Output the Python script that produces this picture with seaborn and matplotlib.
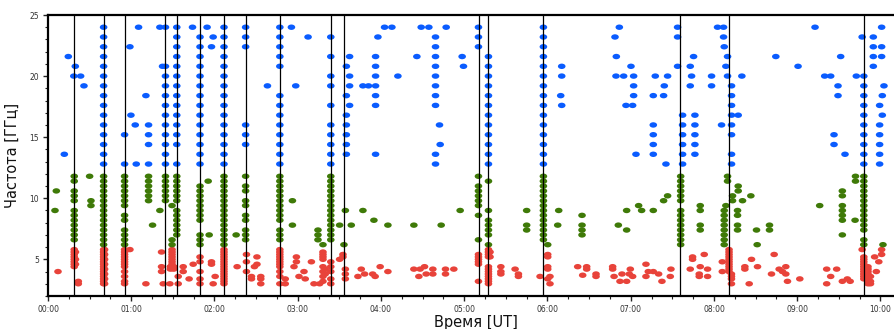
import numpy as np
import pandas as pd
import matplotlib
matplotlib.use("Agg")
import matplotlib.pyplot as plt
from matplotlib.path import Path
from matplotlib.transforms import Affine2D
from matplotlib.ticker import MultipleLocator
import seaborn as sns

# ---------------- data ----------------
blue_channels = [12.8, 13.6, 14.4, 15.2, 16.0, 16.8, 17.6, 18.4, 19.2, 20.0, 20.8, 21.6, 22.4, 23.2, 24.0]
green_channels = [6.2, 6.6, 7.0, 7.4, 7.8, 8.2, 8.6, 9.0, 9.4, 9.8, 10.2, 10.6, 11.0, 11.4, 11.8]
red_channels = [3.0, 3.2, 3.4, 3.6, 3.8, 4.0, 4.2, 4.4, 4.6, 4.8, 5.0, 5.2, 5.4, 5.6, 5.8]

# event times (hours UT) marked by vertical lines
event_times = [0.315, 0.668, 0.920, 1.411, 1.547, 1.826, 2.114, 2.374, 2.785,
               3.397, 3.561, 5.172, 5.291, 5.944, 7.586, 8.181, 9.800]

# (time [h], frequencies [GHz]) groups per band
blue_groups = [
    (0.196, [13.6]), (0.244, [21.6]), (0.328, [20.8]), (0.310, [20.0]), (0.392, [20.0]),
    (0.432, [19.2]), (0.668, blue_channels), (0.920, [15.2, 12.8]), (0.984, [22.4]),
    (0.996, [16.8]), (1.048, [16.0]), (1.060, [12.8]), (1.088, [24.0]), (1.176, [18.4]),
    (1.208, [16.0, 15.2, 14.4, 12.8]), (1.344, [24.0]), (1.376, [20.8]),
    (1.411, [24.0, 20.8, 20.0, 19.2, 18.4, 17.6, 16.8, 16.0, 15.2, 14.4, 13.6, 12.8]),
    (1.547, [24.0, 23.2, 22.4, 21.6, 20.8, 20.0, 19.2, 18.4, 17.6, 16.8, 16.0, 15.2, 14.4, 12.8]),
    (1.736, [24.0]),
    (1.826, [23.2, 22.4, 21.6, 20.8, 20.0, 19.2, 18.4, 17.6, 16.8, 16.0, 15.2, 14.4, 13.6, 12.8]),
    (1.911, [24.0]), (1.964, [22.4]), (1.984, [23.2]), (2.114, blue_channels),
    (2.374, [24.0, 23.2, 22.4, 16.0, 15.2, 14.4]), (2.636, [19.2]),
    (2.785, [24.0, 23.2, 22.4, 21.6, 20.8, 18.4, 17.6, 16.8, 16.0, 15.2, 14.4, 13.6, 12.8]),
    (2.924, [24.0]), (2.976, [19.2]), (3.124, [23.2]),
    (3.397, [23.2, 21.6, 20.0, 19.2, 17.6, 16.0, 15.2, 14.4, 13.6, 12.8]),
    (3.584, [20.8, 18.4, 16.8, 16.0, 15.2, 14.4, 13.6]), (3.623, [21.6, 20.0, 19.2, 17.6]),
    (3.783, [19.2]), (3.850, [19.2]), (3.935, [21.6, 20.8, 20.0, 19.2, 18.4, 17.6, 13.6]),
    (3.963, [23.2]), (4.043, [24.0]), (4.131, [24.0]), (4.203, [20.0]), (4.431, [21.6]),
    (4.483, [24.0]), (4.575, [24.0]),
    (4.655, [23.2, 22.4, 21.6, 20.8, 20.0, 19.2, 18.4, 17.6, 13.6, 12.8]),
    (4.703, [16.0]), (4.711, [14.4]), (4.783, [24.0]), (4.975, [21.6]), (4.991, [20.8]),
    (5.171, [24.0, 23.2, 22.4]),
    (5.291, [21.6, 20.8, 20.0, 19.2, 18.4, 17.6, 16.8, 16.0, 15.2, 14.4, 13.6, 12.8]),
    (5.951, blue_channels), (6.159, [18.4]), (6.171, [20.8, 20.0, 17.6]),
    (6.811, [23.2]), (6.823, [20.0]), (6.827, [21.6]), (6.863, [24.0]), (6.915, [20.0]),
    (6.943, [17.6]), (7.003, [20.8]), (7.023, [17.6]), (7.035, [20.0, 19.2, 18.4]),
    (7.063, [13.6]), (7.271, [18.4, 16.0, 15.2, 14.4, 13.6]), (7.295, [20.0]),
    (7.395, [18.4]), (7.403, [19.2]), (7.423, [12.8]), (7.443, [20.0]),
    (7.563, [24.0, 23.2, 20.8]), (7.623, [16.8, 16.0, 15.2, 14.4, 13.6, 12.8]),
    (7.715, [20.8, 19.2]), (7.731, [20.0]), (7.755, [21.6]),
    (7.771, [16.8, 16.0, 15.2, 14.4, 13.6]), (7.971, [20.0, 19.2]), (8.043, [24.0]),
    (8.091, [16.0]), (8.115, [24.0, 23.2]), (8.123, [22.4]), (8.143, [20.8]),
    (8.163, [21.6, 20.0]), (8.211, [19.2, 18.4, 17.6, 16.8, 16.0, 15.2, 13.6, 12.8]),
    (8.291, [16.8]), (8.335, [20.0]), (8.743, [21.6]), (9.010, [20.8]), (9.214, [24.0]),
    (9.330, [20.0]), (9.402, [20.0]), (9.442, [15.2, 14.4]), (9.490, [19.2, 18.4]),
    (9.522, [21.6]), (9.574, [13.6]), (9.710, [20.0]), (9.780, [23.2]),
    (9.800, [20.0, 19.2, 18.4, 17.6, 16.8, 16.0, 15.2, 14.4, 13.6, 12.8]),
    (9.914, [23.2, 22.4, 21.6, 20.8]), (9.990, [17.6, 16.0, 15.2, 14.4, 13.6, 12.8]),
    (10.014, [24.0, 22.4, 21.6]), (10.022, [18.4, 16.8]), (10.042, [19.2]),
]

green_groups = [
    (0.084, [9.0]), (0.100, [10.6]),
    (0.315, [11.8, 11.4, 10.6, 10.2, 9.8, 9.0, 8.6, 8.2, 7.8, 7.4, 7.0, 6.6]),
    (0.500, [11.8]), (0.516, [9.8, 9.4]), (0.668, green_channels),
    (0.920, [11.8, 11.4, 11.0, 10.6, 10.2, 9.8, 9.4, 8.6, 8.2, 7.4, 7.0, 6.6, 6.2]),
    (1.208, [11.8, 11.4, 11.0, 10.6, 10.2, 9.8]), (1.256, [7.8]), (1.344, [9.0]),
    (1.411, [11.8, 11.4, 11.0, 10.6, 10.2, 9.8]), (1.490, [9.4, 6.6, 6.2]),
    (1.547, [11.8, 11.4, 11.0, 10.6, 10.2, 9.8, 9.0, 8.6, 8.2, 7.8, 7.4, 7.0]),
    (1.826, [11.0, 10.6, 10.2, 9.8, 9.4, 9.0, 8.6, 8.2, 7.0, 6.6, 6.2]),
    (1.924, [11.4]), (1.936, [7.0]), (2.114, green_channels), (2.260, [7.0]),
    (2.374, [11.8, 11.0, 10.6, 9.8, 9.4, 8.6, 8.2, 7.4, 7.0, 6.6]),
    (2.785, [11.8, 11.4, 11.0, 10.6, 10.2, 9.8, 9.4, 9.0, 8.6, 8.2, 7.4, 7.0, 6.6]),
    (2.936, [9.8, 7.8]), (3.243, [7.4, 7.0, 6.6]), (3.303, [6.2]),
    (3.397, [11.8, 11.4, 11.0, 10.6, 10.2, 9.8, 9.4, 9.0, 8.6, 8.2, 7.8, 7.4, 7.0, 6.6]),
    (3.503, [7.8]), (3.555, [6.2]), (3.572, [9.0]), (3.643, [7.8]), (3.783, [9.0]),
    (3.915, [8.2]), (4.083, [7.8]), (4.395, [7.8]), (4.723, [7.8]), (4.951, [9.0]),
    (5.171, [11.8, 11.0, 10.6, 10.2, 9.8, 9.4, 8.6, 6.6]),
    (5.291, [11.4, 9.0, 8.2, 7.8, 7.4, 7.0, 6.2]), (5.750, [9.0, 7.8, 7.4]),
    (5.951, [11.8, 11.4, 11.0, 10.6, 10.2, 9.8, 9.4, 9.0, 8.6, 8.2, 7.8, 7.4, 7.0, 6.6]),
    (6.003, [6.2]), (6.123, [7.8]), (6.135, [9.0]), (6.415, [8.6, 7.8, 7.4, 7.0]),
    (6.851, [7.8]), (6.951, [9.0, 7.4]), (7.095, [9.4]), (7.131, [9.0]), (7.271, [9.0]),
    (7.395, [9.8]), (7.443, [10.2]),
    (7.600, [11.8, 11.4, 11.0, 10.6, 10.2, 9.8, 9.0, 8.6, 8.2, 7.8, 7.4, 7.0, 6.6, 6.2]),
    (7.835, [9.4, 9.0, 7.8, 7.4]), (8.123, [9.0, 8.6, 8.2, 7.8, 7.4, 7.0, 6.6, 6.2]),
    (8.143, [9.4]), (8.163, [11.8, 11.4]), (8.223, [10.2, 9.8]),
    (8.283, [9.0, 8.6, 7.8, 7.4]), (8.291, [11.0, 10.6]), (8.343, [9.8]), (8.443, [10.2]),
    (8.511, [7.4]), (8.519, [6.2]), (8.667, [7.8, 7.4]), (9.270, [9.4]),
    (9.542, [10.6, 10.2, 9.4, 9.0, 8.6, 8.2, 7.0]), (9.695, [8.2]), (9.700, [11.8, 11.4]),
    (9.800, [11.8, 11.4, 11.0, 10.6, 10.2, 9.8, 9.4, 9.0, 8.6, 8.2, 7.8, 7.4, 6.6, 6.2]),
    (10.030, [6.2]),
]

red_groups = [
    (0.120, [4.0]), (0.315, [5.8, 5.6, 5.4, 5.2, 5.0, 4.8, 4.6, 4.4]),
    (0.330, [5.6, 5.0, 4.6]), (0.364, [3.2, 3.0]), (0.668, red_channels),
    (0.680, [5.8, 5.4, 5.0, 4.6, 4.2, 3.8, 3.4, 3.0]),
    (0.920, [5.8, 5.6, 5.4, 5.2, 5.0, 4.8, 4.6, 4.4, 4.0, 3.6, 3.2, 3.0]),
    (0.984, [5.8]), (1.176, [3.0]), (1.364, [5.6, 4.4, 4.0]), (1.384, [3.0]),
    (1.464, [3.0]), (1.470, [4.4, 4.2]), (1.490, [5.8, 5.6, 5.4, 5.2, 5.0, 4.8, 4.6, 4.4]),
    (1.510, [4.4, 4.2]), (1.564, [3.6, 3.0]), (1.624, [4.4, 4.0]), (1.695, [3.4]),
    (1.744, [4.6]), (1.826, [5.2, 4.8, 4.0, 3.4, 3.0]), (1.964, [4.6, 4.8]),
    (1.984, [3.0]), (2.008, [3.6]), (2.114, red_channels), (2.272, [4.4]),
    (2.384, [5.4, 4.8, 4.0]), (2.444, [3.6, 3.4]), (2.480, [4.4]), (2.510, [5.2, 4.6]),
    (2.556, [3.6, 3.4, 3.0]),
    (2.785, [5.8, 5.6, 5.4, 5.2, 5.0, 4.8, 4.6, 4.4, 4.0, 3.6, 3.0]),
    (2.850, [3.4, 3.0]), (2.955, [4.4]), (2.984, [5.2, 4.8]), (3.015, [3.6]),
    (3.075, [4.0]), (3.090, [3.4]), (3.164, [4.8]), (3.195, [3.0]), (3.263, [3.0]),
    (3.303, [5.6, 5.4, 5.2, 5.0, 4.4, 4.0, 3.6, 3.2]), (3.330, [4.2, 3.8]),
    (3.397, [4.8, 4.4, 4.0, 3.4, 3.0]), (3.503, [5.0]), (3.543, [5.4, 5.2]),
    (3.572, [4.2, 3.8, 3.4]), (3.723, [3.6]), (3.763, [4.2]), (3.803, [3.8]),
    (3.900, [3.8]), (3.930, [3.6]), (3.990, [4.4]), (4.083, [4.0]), (4.395, [4.2]),
    (4.455, [3.6]), (4.470, [4.2]), (4.523, [4.4]), (4.543, [3.8]), (4.623, [4.2, 3.8]),
    (4.775, [4.2, 3.8]), (4.875, [4.2]), (5.171, [5.4, 5.2, 5.0, 4.8, 4.6, 3.2]),
    (5.291, [5.8, 5.6, 5.4, 5.2, 4.4, 4.2, 4.0, 3.8, 3.6, 3.4, 3.2, 3.0]),
    (5.310, [5.6, 5.2]), (5.440, [4.4, 4.0, 3.8]), (5.611, [4.2]), (5.651, [3.8, 3.6]),
    (5.911, [3.6]), (6.003, [5.4, 5.2, 4.4, 4.2, 3.4]), (6.030, [3.6, 3.0]),
    (6.363, [4.4]), (6.423, [3.7]), (6.471, [4.4, 4.2]), (6.583, [3.8, 3.6]),
    (6.783, [4.4, 4.2]), (6.800, [3.6]), (6.871, [3.2]), (6.895, [3.8]), (6.951, [3.2]),
    (6.983, [3.8]), (6.995, [4.2]), (7.023, [3.6]), (7.183, [4.6, 3.6]), (7.211, [4.0]),
    (7.271, [4.0]), (7.335, [3.8]), (7.375, [3.2]), (7.475, [3.6]), (7.483, [4.2]),
    (7.715, [4.2]), (7.743, [5.2, 5.0]), (7.823, [3.8, 3.6]), (7.835, [4.4]),
    (7.883, [5.4]), (7.923, [4.2, 3.6]), (8.100, [4.8, 4.0]),
    (8.181, [5.8, 5.6, 5.4, 5.2, 5.0, 4.8, 4.6, 4.4, 4.2, 4.0]),
    (8.210, [3.8, 3.6, 3.4, 3.0]), (8.371, [4.4, 4.2]), (8.423, [3.0]), (8.451, [5.0]),
    (8.523, [4.4]), (8.691, [3.8]), (8.723, [5.4]), (8.783, [4.2]), (8.823, [4.0]),
    (8.863, [4.4, 3.8]), (8.883, [3.2]), (9.031, [3.4]), (9.354, [4.2, 3.0]),
    (9.402, [3.6]), (9.474, [4.2]), (9.542, [3.2]), (9.602, [3.4]), (9.636, [3.2]),
    (9.780, [5.8]), (9.800, [5.2, 5.0, 4.8, 4.6, 4.4, 4.2, 4.0, 3.8, 3.6, 3.4]),
    (9.850, [4.4, 4.2, 4.0, 3.8, 3.6, 3.4, 3.2, 3.0]), (9.880, [3.6, 3.2, 3.0]),
    (9.930, [5.2]), (9.950, [4.0]), (9.980, [4.8]), (10.014, [5.8, 5.4]),
]

tick_hours = [0, 1, 2, 3, 4, 5, 6, 7, 8, 9, 10]
tick_labels = ["00:00", "01:00", "02:00", "03:00", "04:00", "05:00",
               "06:00", "07:00", "08:00", "09:00", "10:00"]
y_ticks = [5, 10, 15, 20, 25]

band_colors = {"high": "#0a5cff", "mid": "#3f7a08", "low": "#e8433a"}

# ---------------- build table ----------------
rows = []
for band, groups in (("low", red_groups), ("mid", green_groups), ("high", blue_groups)):
    for t, fs in groups:
        for f in fs:
            rows.append((t, f, band))
df = pd.DataFrame(rows, columns=["time", "freq", "band"])

# ---------------- plot ----------------
sns.set_style("ticks")
plt.rcParams["font.family"] = ["DejaVu Sans"]

fig = plt.figure(figsize=(8.94, 3.29), dpi=100)
ax = fig.add_axes([48 / 894, 1 - 296 / 329, 1 - 48 / 894 + 0.01, (296 - 15) / 329])

ellipse = Path.unit_circle().transformed(Affine2D().scale(1.4, 1.0))

sns.scatterplot(data=df, x="time", y="freq", hue="band", palette=band_colors,
                marker=ellipse, s=30, linewidth=0, legend=False, ax=ax, zorder=2)

for t in event_times:
    ax.axvline(t, color="black", linewidth=0.9, zorder=3)

ax.set_xlim(0, (894 - 48) / 83.35 + 0.12)
ax.set_ylim(2, 25)
ax.set_xticks(tick_hours)
ax.set_xticklabels(tick_labels)
ax.set_yticks(y_ticks)
ax.xaxis.set_minor_locator(MultipleLocator(0.25))
ax.yaxis.set_minor_locator(MultipleLocator(1))
ax.tick_params(which="major", labelsize=5.5, length=3.5, width=1.0,
               colors="#222222", labelcolor="#333333", pad=3)
ax.tick_params(which="minor", length=2, width=0.8, colors="#222222")

for side in ("left", "bottom", "top"):
    ax.spines[side].set_linewidth(1.6)
    ax.spines[side].set_color("black")
ax.spines["right"].set_visible(False)

ax.set_xlabel("Время [UT]", fontsize=10.5, labelpad=0.5, color="#111111")
ax.set_ylabel("Частота [ГГц]", fontsize=10.5, labelpad=7, color="#111111")

fig.savefig("out.png", dpi=100)
